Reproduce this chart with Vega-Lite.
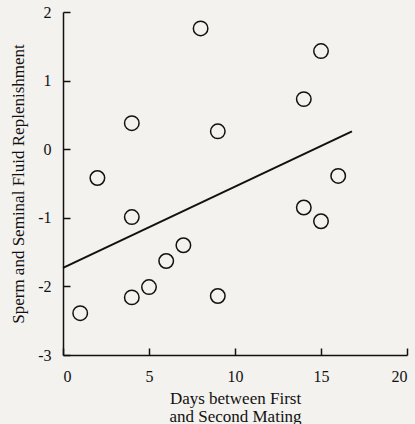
{
  "$schema": "https://vega.github.io/schema/vega-lite/v6.json",
  "autosize": "none",
  "width": 344,
  "height": 343,
  "padding": {"left": 63, "top": 12, "right": 8, "bottom": 69},
  "background": "#f3f2ee",
  "config": {
    "view": {"stroke": null},
    "font": "Liberation Serif",
    "axis": {
      "grid": false,
      "domainColor": "#111",
      "domainWidth": 1.5,
      "tickColor": "#111",
      "tickWidth": 1.5,
      "tickSize": -7,
      "labelFont": "Liberation Serif",
      "labelFontSize": 16,
      "labelColor": "#111",
      "titleFont": "Liberation Serif",
      "titleFontSize": 17,
      "titleFontWeight": "normal",
      "titleColor": "#111"
    }
  },
  "datasets": {
    "points": [
      {"days": 1, "rep": -2.39},
      {"days": 2, "rep": -0.42},
      {"days": 4, "rep": 0.38},
      {"days": 4, "rep": -0.99},
      {"days": 4, "rep": -2.16},
      {"days": 5, "rep": -2.01},
      {"days": 6, "rep": -1.63},
      {"days": 7, "rep": -1.40},
      {"days": 8, "rep": 1.76},
      {"days": 9, "rep": 0.26},
      {"days": 9, "rep": -2.14},
      {"days": 14, "rep": 0.73},
      {"days": 14, "rep": -0.85},
      {"days": 15, "rep": 1.43},
      {"days": 15, "rep": -1.05},
      {"days": 16, "rep": -0.39}
    ],
    "fit": [
      {"days": 0, "rep": -1.73},
      {"days": 16.8, "rep": 0.26}
    ]
  },
  "layer": [
    {
      "data": {"name": "fit"},
      "mark": {"type": "line", "color": "#111", "strokeWidth": 2},
      "encoding": {
        "x": {"field": "days", "type": "quantitative"},
        "y": {"field": "rep", "type": "quantitative"}
      }
    },
    {
      "data": {"name": "points"},
      "mark": {"type": "point", "shape": "circle", "filled": false, "size": 210, "stroke": "#111", "strokeWidth": 1.5, "opacity": 1},
      "encoding": {
        "x": {
          "field": "days", "type": "quantitative",
          "scale": {"domain": [0, 20], "nice": false, "zero": false},
          "axis": {"values": [0, 5, 10, 15, 20], "labelExpr": "'' + datum.value", "labelPadding": 20, "title": ["Days between First", "and Second Mating"], "titlePadding": 6, "titleLineHeight": 18}
        },
        "y": {
          "field": "rep", "type": "quantitative",
          "scale": {"domain": [-3, 2], "nice": false, "zero": false},
          "axis": {"values": [-3, -2, -1, 0, 1, 2], "labelExpr": "'' + datum.value", "labelPadding": 19, "title": "Sperm and Seminal Fluid Replenishment", "titlePadding": 10}
        }
      }
    }
  ]
}
